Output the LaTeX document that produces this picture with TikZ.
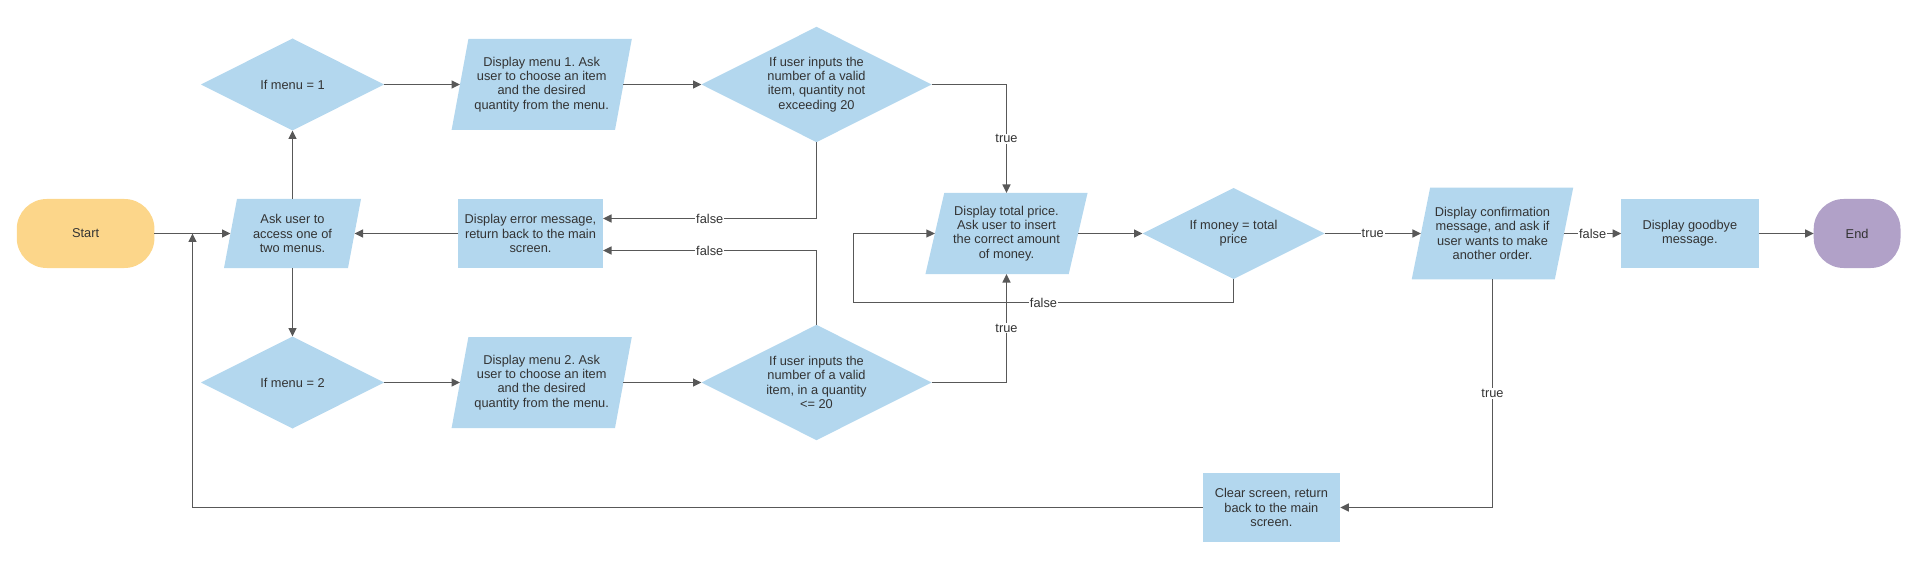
\documentclass[tikz,border=0pt]{standalone}
\usepackage{fontspec}
\setmainfont{Liberation Sans}
\usetikzlibrary{arrows.meta,calc}
\definecolor{boxF}{RGB}{179,215,238}
\definecolor{startF}{RGB}{252,214,138}
\definecolor{endF}{RGB}{177,161,200}
\definecolor{lineC}{RGB}{88,88,88}
\definecolor{txtC}{RGB}{51,51,51}
\newcommand\dfont{\fontsize{12.8pt}{14.2pt}\selectfont\frenchspacing}
\pgfdeclarelayer{bg}
\pgfsetlayers{bg,main}
\tikzset{
  base/.style={font=\dfont, text=txtC, align=center, inner sep=0pt, outer sep=0pt},
  term/.style={base, rounded corners=30pt, minimum height=69pt},
  proc/.style={base, fill=boxF, minimum height=69pt},
  io/.style={base},
  dec/.style={base},
  conn/.style={draw=lineC, line width=1.3pt, -{Triangle[length=8.5pt,width=8pt]}},
  lab/.style={fill=white, inner sep=1pt, font=\dfont, text=txtC}
}
\begin{document}
\begin{tikzpicture}[x=1pt,y=-1pt]
\path[use as bounding box] (0,0) rectangle (1920,572);

\node[term, fill=startF, minimum width=137.7pt] (start) at (85.6,233.5) {Start};
\node[io, minimum width=124pt, minimum height=69pt] (ask) at (292.5,233.5) {Ask user to\\access one of\\two menus.};
\node[dec, minimum width=183pt, minimum height=92pt] (d1) at (292.5,84.5) {If menu = 1};
\node[dec, minimum width=183pt, minimum height=92pt] (d2) at (292.5,382.5) {If menu = 2};
\node[io, minimum width=163.4pt, minimum height=91pt] (m1) at (541.7,84.5) {Display menu 1. Ask\\user to choose an item\\and the desired\\quantity from the menu.};
\node[io, minimum width=163.4pt, minimum height=91pt] (m2) at (541.7,382.5) {Display menu 2. Ask\\user to choose an item\\and the desired\\quantity from the menu.};
\node[dec, minimum width=230pt, minimum height=115.3pt] (v1) at (816.5,84.5) {If user inputs the\\number of a valid\\item, quantity not\\exceeding 20};
\node[dec, minimum width=230pt, minimum height=115.3pt] (v2) at (816.5,382.5) {If user inputs the\\number of a valid\\item, in a quantity\\<= 20};
\node[proc, minimum width=145pt] (err) at (530.5,233.5) {Display error message,\\return back to the main\\screen.};
\node[io, minimum width=143.3pt, minimum height=81pt] (tp) at (1006.5,233.5) {Display total price.\\Ask user to insert\\the correct amount\\of money.};
\node[dec, minimum width=182pt, minimum height=91pt] (money) at (1233.5,233.5) {If money = total\\price};
\node[io, minimum width=143.1pt, minimum height=91.7pt] (conf) at (1492.5,233.5) {Display confirmation\\message, and ask if\\user wants to make\\another order.};
\node[proc, minimum width=137.4pt] (bye) at (1689.9,233.5) {Display goodbye\\message.};
\node[term, fill=endF, minimum width=86.8pt] (end) at (1857.1,233.5) {End};
\node[proc, minimum width=137.8pt, minimum height=68.4pt] (clear) at (1271.4,507.5) {Clear screen, return\\back to the main\\screen.};

\begin{pgfonlayer}{bg}
\foreach \n/\s in {ask/6.5,m1/8.4,m2/8.4,tp/9.4,conf/9.2}
  \fill[boxF] ([xshift=-\s pt]\n.south west) -- ([xshift=-\s pt]\n.south east) -- ([xshift=\s pt]\n.north east) -- ([xshift=\s pt]\n.north west) -- cycle;
\foreach \n in {d1,d2,v1,v2,money}
  \fill[boxF] (\n.north) -- (\n.east) -- (\n.south) -- (\n.west) -- cycle;
\end{pgfonlayer}

\coordinate (jn) at (192.5,233.5);
\coordinate (fb) at (853.5,302.5);

\draw[conn] (start) -- (ask);
\draw[conn] (ask) -- (d1);
\draw[conn] (ask) -- (d2);
\draw[conn] (d1) -- (m1);
\draw[conn] (d2) -- (m2);
\draw[conn] (m1) -- (v1);
\draw[conn] (m2) -- (v2);
\draw[conn] (v1.east) -| node[lab,pos=0.75]{true} (tp.north);
\draw[conn] (v2.east) -| node[lab,pos=0.75]{true} (tp.south);
\draw[conn] (v1.south) |- node[lab,pos=0.75]{false} ([yshift=15pt]err.east);
\draw[conn] (v2.north) |- node[lab,pos=0.75]{false} ([yshift=-17pt]err.east);
\draw[conn] (err) -- (ask);
\draw[conn] (tp) -- (money);
\draw[conn] (money.south) |- node[lab,pos=0.75]{false} (fb) |- (tp.west);
\draw[conn] (money) -- node[lab]{true} (conf);
\draw[conn] (conf) -- node[lab]{false} (bye);
\draw[conn] (bye) -- (end);
\draw[conn] (conf.south) |- node[lab,pos=0.25]{true} (clear.east);
\draw[conn] (clear.west) -| (jn);
\end{tikzpicture}
\end{document}
